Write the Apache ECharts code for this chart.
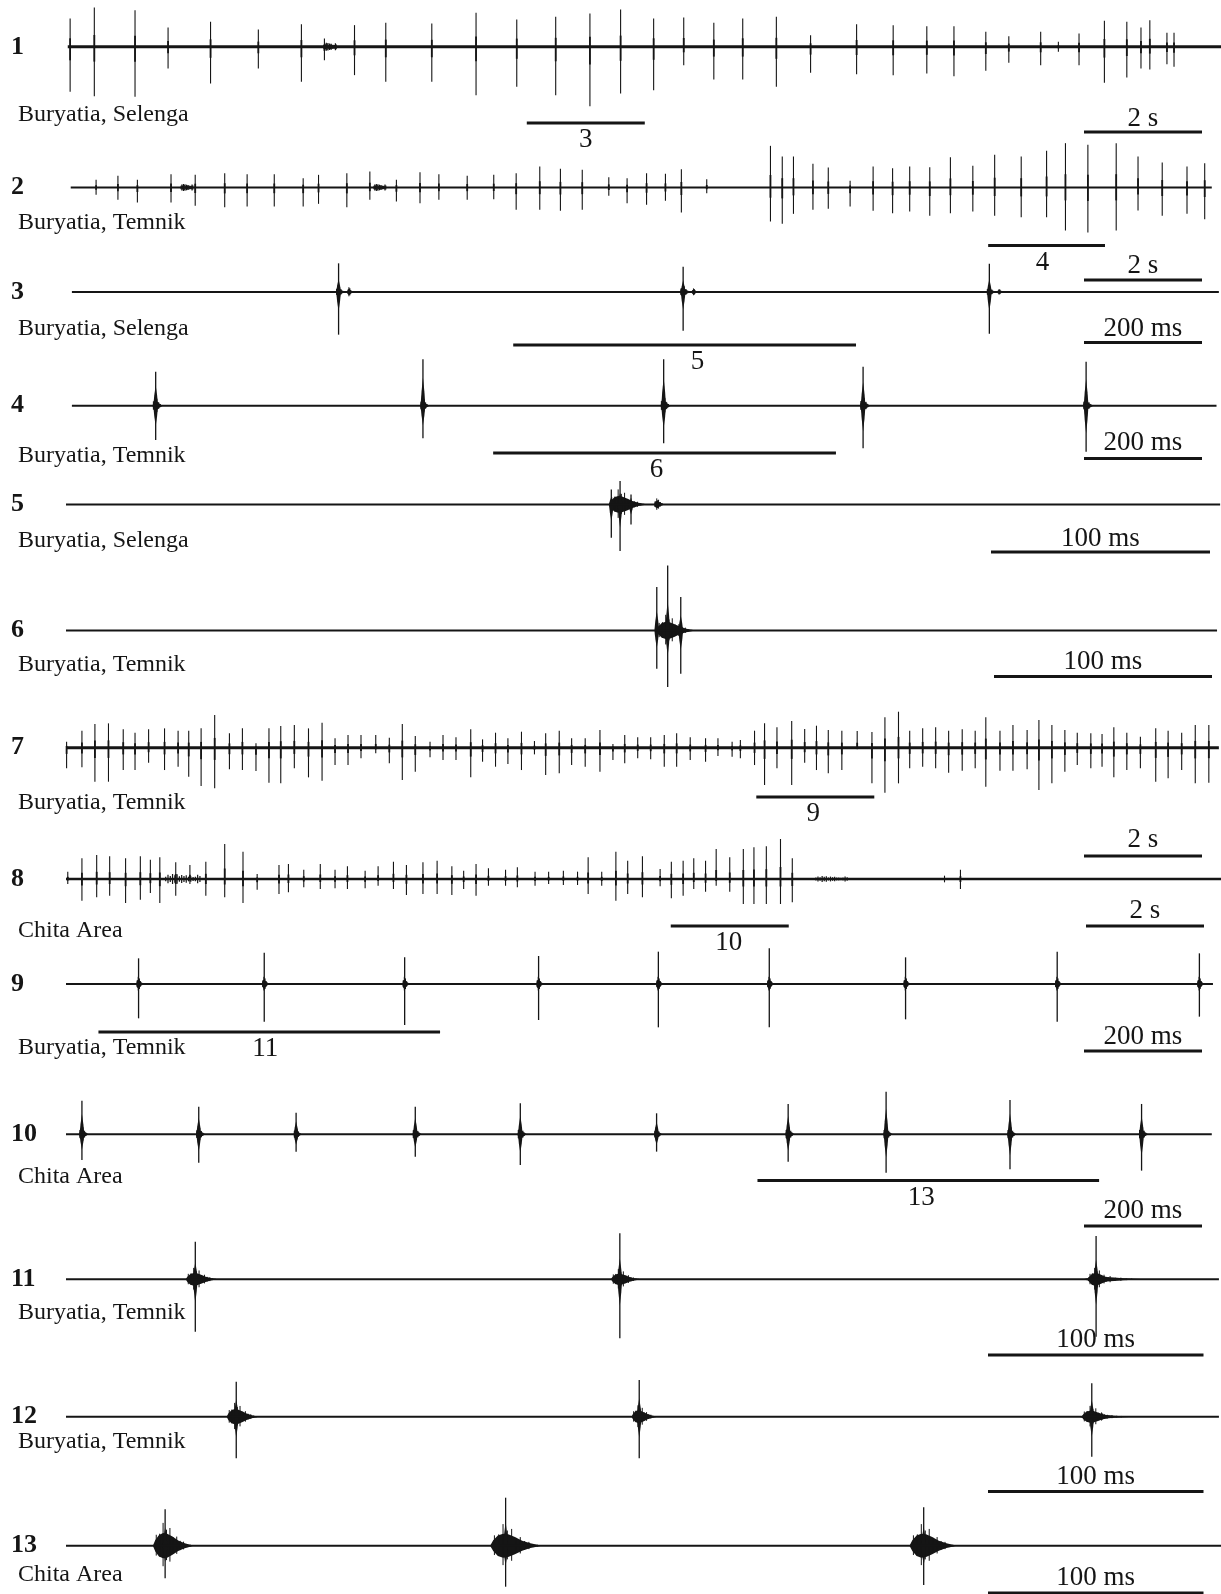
<!DOCTYPE html>
<html>
<head>
<meta charset="utf-8">
<script src="https://cdn.jsdelivr.net/npm/echarts@6/dist/echarts.min.js"></script>
<style>
  html, body { margin: 0; padding: 0; background: #fff; }
  #chart { width: 1221px; height: 1594px; }
</style>
</head>
<body>
<div id="chart"></div>
<script>
// ---- data (times in s or ms of each record, amplitudes in relative units) ----
const rowIds = ['1','2','3','4','5','6','7','8','9','10','11','12','13'];
const regions = ['Buryatia, Selenga','Buryatia, Temnik','Buryatia, Selenga','Buryatia, Temnik',
  'Buryatia, Selenga','Buryatia, Temnik','Buryatia, Temnik','Chita Area','Buryatia, Temnik',
  'Chita Area','Buryatia, Temnik','Buryatia, Temnik','Chita Area'];
const scaleLabels = ['2 s','2 s','200 ms','200 ms','100 ms','100 ms','2 s','2 s','200 ms','200 ms','100 ms','100 ms','100 ms'];
const scaleLengths = [2,2,200,200,100,100,2,2,200,200,100,100,100];
const traceSpans = [[0.03,19.58],[0.08,19.42],[10,1954],[10,1950],[0,527],[0,528],[0,19.54],[0,19.58],[0,1944],[0,1942],[0,535],[0,535],[0,536]];

// [time, up, down]
const spikes1 = [[0.07,85,135],[0.48,118,148],[1.17,110,150],[1.73,58,65],[2.45,75,110],[3.26,52,65],[3.99,68,105],[4.38,25,40],[4.89,65,85],[5.42,72,105],[6.20,70,105],[6.95,102,145],[7.64,82,120],[8.30,90,145],[8.88,100,178],[9.40,112,140],[9.96,85,130],[10.47,88,55],[10.98,72,98],[11.47,85,98],[12.04,90,120],[12.62,35,78],[13.40,68,82],[14.02,65,85],[14.59,62,80],[15.05,62,88],[15.59,45,72],[15.98,32,48],[16.52,45,55],[16.82,15,15],[17.17,40,55],[17.60,78,108],[17.98,75,92],[18.22,58,65],[18.37,80,68],[18.66,42,52],[18.78,42,60]];
const spikes2 = [[0.51,23,22],[0.88,35,37],[1.21,23,45],[1.78,40,45],[2.19,38,55],[2.69,43,59],[3.07,40,57],[3.53,40,57],[4.02,28,57],[4.28,38,49],[4.76,43,59],[5.15,48,37],[5.60,23,42],[6.00,46,47],[6.32,40,37],[6.80,35,37],[7.25,38,35],[7.63,43,67],[8.03,63,67],[8.38,56,70],[8.75,53,67],[9.20,31,25],[9.51,28,47],[9.84,43,52],[10.16,41,40],[10.43,55,75],[10.86,25,17],[11.94,125,102],[12.14,93,109],[12.33,93,79],[12.66,71,67],[12.92,60,64],[13.29,20,57],[13.68,63,70],[14.01,58,77],[14.30,63,72],[14.64,61,85],[14.99,91,77],[15.37,65,72],[15.74,98,85],[16.19,93,89],[16.62,110,89],[16.94,133,129],[17.32,128,135],[17.80,133,129],[18.17,93,69],[18.58,75,85],[19.00,63,79],[19.30,73,95]];
const spikes7 = [[0.01,18,62],[0.27,51,59],[0.49,71,102],[0.72,73,102],[0.97,55,67],[1.17,45,67],[1.40,55,45],[1.67,58,67],[1.90,51,57],[2.08,51,87],[2.29,58,115],[2.52,98,122],[2.77,43,65],[2.99,58,67],[3.22,13,70],[3.44,58,105],[3.64,65,107],[3.87,68,62],[4.11,58,89],[4.34,75,99],[4.56,28,52],[4.78,38,52],[5.00,38,32],[5.25,38,17],[5.48,30,47],[5.70,71,97],[5.92,35,72],[6.17,18,29],[6.39,38,37],[6.61,31,37],[6.86,55,89],[7.06,25,42],[7.28,45,57],[7.49,28,49],[7.72,48,67],[7.94,20,20],[8.13,43,82],[8.36,51,77],[8.57,28,52],[8.80,28,57],[9.05,53,72],
  [9.27,11,37],[9.47,38,47],[9.69,31,32],[9.91,31,35],[10.14,38,57],[10.35,43,57],[10.58,31,37],[10.84,28,42],[11.05,28,25],[11.29,18,27],[11.43,23,32],[11.67,51,52],[11.84,73,112],[12.05,61,62],[12.30,80,112],[12.52,56,45],[12.72,66,67],[12.92,53,77],[13.15,51,67],[13.41,50,5],[13.66,47,107],[13.88,91,135],[14.11,108,107],[14.30,51,62],[14.52,58,57],[14.74,61,62],[14.96,51,75],[15.19,55,69],[15.41,51,62],[15.59,91,117],[15.83,51,69],[16.05,68,69],[16.29,53,65],[16.49,83,127],[16.71,68,107],[16.93,53,72],[17.14,45,52],[17.37,43,62],[17.56,41,57],[17.76,61,89],[17.98,45,67],[18.21,33,62],[18.47,58,102],[18.68,51,92],[18.91,45,67],[19.14,68,107],[19.37,68,105]];
const spikes8 = [[0.03,22,15],[0.27,62,65],[0.52,72,55],[0.74,68,50],[1.01,62,72],[1.26,68,62],[1.43,58,42],[1.59,65,72],[1.86,50,50],[2.10,42,15],[2.37,52,50],[2.69,105,55],[3.00,82,72],[3.24,15,32],[3.61,42,45],[3.77,45,40],[4.03,28,25],[4.31,45,30],[4.56,28,28],[4.77,38,30],[5.07,25,28],[5.29,38,20],[5.55,52,30],[5.77,42,48],[6.05,50,45],[6.29,55,45],[6.54,38,48],[6.74,25,30],[6.95,45,50],[7.16,32,20],[7.45,28,20],[7.65,35,25],[7.95,22,20],[8.18,22,15],[8.43,25,18],[8.67,22,18],[8.85,65,45],[9.08,22,20],[9.32,82,65],[9.52,55,45],[9.77,68,55],[10.07,30,22],[10.26,52,58],[10.46,55,50],[10.64,62,30],[10.84,55,38],[11.02,90,20],[11.25,65,38],[11.48,90,75],[11.66,95,75],[11.87,98,75],[12.11,120,75],[12.31,62,70],[14.89,10,10],[15.16,28,30]];

// noise patches [from, to, amplitude]
const patches1 = [[4.37,4.58,8]];
const patches2 = [[1.95,2.15,7],[5.22,5.42,7]];
const patches8 = [[1.69,2.27,10],[12.71,13.24,6]];

// bursts [time, up, down, core, duration]
const bursts3 = [[462,86,128,11,16],[480,9,9,8,10],[1046,76,116,12,18],[1064,7,7,6,10],[1565,85,125,10,16],[1582,6,6,5,10]];
const bursts4 = [[152,102,103,15,18],[605,139,98,14,16],[1013,139,113,16,18],[1351,117,128,16,18],[1729,132,138,14,18]];
const bursts5 = [[253,70,140,25,17.6],[249,45,100,0,0],[258,30,60,0,0],[270,10,10,10,5]];
const bursts6 = [[276,195,170,26,18],[271,130,115,0,0],[282,100,130,0,0]];
const bursts9 = [[123,77,103,12,12],[336,94,113,12,12],[574,80,123,12,12],[801,84,108,12,12],[1004,97,130,12,12],[1192,107,130,12,12],[1423,80,106,12,12],[1680,97,113,12,12],[1921,92,98,12,12]];
const bursts10 = [[27,101,77,15,16],[225,83,85,14,16],[390,65,52,12,14],[592,83,67,14,16],[770,93,92,15,16],[1001,63,52,12,14],[1224,91,82,15,16],[1390,128,115,15,16],[1600,103,105,15,16],[1823,91,109,15,16]];
const bursts11 = [[60,113,157,19,15],[257,138,177,17,14],[478,130,172,19,13],[481,0,0,7,30]];
const bursts12 = [[79,105,125,23,15],[266,110,125,19,12],[476,100,120,18,16],[478,0,0,7,26]];
const bursts13 = [[46,109,98,38,19],[204,144,123,36,24],[398,115,118,36,22]];

// zoomed-in fragments [row, from, to, label]
const zoomBars = [[0,7.81,9.81,'3'],[1,15.63,17.61,'4'],[2,758,1339,'5'],[3,724,1305,'6'],[6,11.70,13.70,'9'],[7,10.25,12.25,'10'],[8,55,634,'11'],[9,1172,1751,'13']];

// ---- layout ----
const W = 1221, H = 1594, LEFT = 66, K = 3;
const pxPerUnit = [59,59,0.59,0.59,2.19,2.18,59,59,0.59,0.59,2.155,2.155,2.155];
const baseY = [46.8,187.5,292,405.7,504.4,630.4,747.7,879,984,1134.3,1279.3,1416.7,1545.7];
const traceWidth = [3,2,2,2,2,2,3,2.5,2,2,2,2,2];
const labelY = [115,223,329,456,541,665,803,931,1048,1177,1313,1442,1575];
const scaleX0 = [1084,1084,1084,1084,991,994,1084,1086,1084,1084,988,988,988];
const scaleBarY = [132,280,342.5,458.5,552,676.5,856,926,1051,1226,1355,1491.5,1593];
const scaleTextY = [119,265.5,329,443,539,662,840,911,1037,1211,1340,1476.5,1578];
const zoomBarY = {0:123, 1:245.5, 2:345, 3:453, 6:797, 7:926, 8:1032, 9:1180.5};
const zoomLabelDx = [0,-4,13,-8,-2,-1,-4,-7];
// how far the thick part of a burst spike reaches (share of its amplitude)
const spindleFrac = {2:0.45, 3:0.6, 4:0.5, 5:0.45, 8:0.15, 9:0.6, 10:0.45, 11:0.5, 12:0.5};

const spikeRows = {0: spikes1, 1: spikes2, 6: spikes7, 7: spikes8};
const patchRows = {0: patches1, 1: patches2, 7: patches8};
const burstRows = {2: bursts3, 3: bursts4, 4: bursts5, 5: bursts6, 8: bursts9, 9: bursts10, 10: bursts11, 11: bursts12, 12: bursts13};

const INK = '#151515';
const FONT = '"Liberation Serif", "Times New Roman", serif';
// burst envelope (offset as part of duration, relative height)
const env = [[-0.3,0],[-0.24,0.45],[-0.15,0.85],[-0.05,1],[0.05,0.95],[0.18,0.72],[0.32,0.42],[0.48,0.2],[0.7,0]];
const hatch = [0.7,1.3,0.9,1.5,1.1,1.4,0.8,1.2,0.9,1.1,0.7,0.8,0.6];

function envAt(f) {
  for (let k = 1; k < env.length; k++) {
    if (f <= env[k][0]) {
      const a = env[k - 1], b = env[k];
      return a[1] + (b[1] - a[1]) * (f - a[0]) / (b[0] - a[0]);
    }
  }
  return 0;
}

const grids = [], xAxes = [], yAxes = [], series = [], texts = [];

rowIds.forEach((id, i) => {
  const base = baseY[i];
  const top = Math.max(0, base - 110);
  const bottom = Math.min(H, base + 120);
  grids.push({left: LEFT, width: W - LEFT, top: top, height: bottom - top});
  xAxes.push({gridIndex: i, type: 'value', min: 0, max: (W - LEFT) / pxPerUnit[i], show: false});
  yAxes.push({gridIndex: i, type: 'value', min: -(bottom - base) * K, max: (base - top) * K, show: false});
  const ax = {xAxisIndex: i, yAxisIndex: i};

  // baseline of the record
  series.push(Object.assign({
    type: 'line', data: [[traceSpans[i][0], 0], [traceSpans[i][1], 0]],
    symbol: 'none', silent: true, lineStyle: {color: INK, width: traceWidth[i]}
  }, ax));

  if (patchRows[i]) {
    series.push(Object.assign({
      type: 'custom', data: patchRows[i], clip: false, silent: true,
      renderItem: (p, api) => {
        const t0 = api.value(0), t1 = api.value(1), a = api.value(2);
        const children = [];
        const n = 16;
        for (let k = 0; k < n; k++) {
          const t = t0 + (t1 - t0) * k / (n - 1);
          const h = a * hatch[k % hatch.length];
          const p0 = api.coord([t, h]), p1 = api.coord([t, -h]);
          children.push({type: 'line', shape: {x1: p0[0], y1: p0[1], x2: p1[0], y2: p1[1]}, style: {stroke: INK, lineWidth: 1.2}});
        }
        return {type: 'group', children: children};
      }
    }, ax));
  }

  if (spikeRows[i]) {
    series.push(Object.assign({
      type: 'custom', data: spikeRows[i], clip: false, silent: true,
      renderItem: (p, api) => {
        const t = api.value(0);
        const a = api.coord([t, api.value(1)]);
        const b = api.coord([t, -api.value(2)]);
        const a2 = api.coord([t, api.value(1) * 0.3]);
        const b2 = api.coord([t, -api.value(2) * 0.3]);
        return {type: 'group', children: [
          {type: 'line', shape: {x1: a[0], y1: a[1], x2: b[0], y2: b[1]}, style: {stroke: INK, lineWidth: 1.1}},
          {type: 'line', shape: {x1: a2[0], y1: a2[1], x2: b2[0], y2: b2[1]}, style: {stroke: INK, lineWidth: 1.8}}
        ]};
      }
    }, ax));
  }

  if (burstRows[i]) {
    const sf = spindleFrac[i];
    series.push(Object.assign({
      type: 'custom', data: burstRows[i], clip: false, silent: true,
      renderItem: (p, api) => {
        const t = api.value(0), up = api.value(1), dn = api.value(2), c = api.value(3), d = api.value(4);
        const children = [];
        if (c > 0 && d > 0) {
          const pts = env.map(e => api.coord([t + e[0] * d, e[1] * c]));
          for (let k = env.length - 1; k >= 0; k--) pts.push(api.coord([t + env[k][0] * d, -env[k][1] * c]));
          children.push({type: 'polygon', shape: {points: pts}, style: {fill: INK}});
          const n = hatch.length;
          for (let k = 0; k < n; k++) {
            const f = -0.3 + k / (n - 1);
            const h = c * envAt(f) * hatch[k] * 1.2;
            if (h <= 0) continue;
            const p0 = api.coord([t + f * d, h]), p1 = api.coord([t + f * d, -h * 0.9]);
            children.push({type: 'line', shape: {x1: p0[0], y1: p0[1], x2: p1[0], y2: p1[1]}, style: {stroke: INK, lineWidth: 1}});
          }
        }
        if (up > 0 || dn > 0) {
          const a = api.coord([t, up]);
          const b = api.coord([t, -dn]);
          children.push({type: 'line', shape: {x1: a[0], y1: a[1], x2: b[0], y2: b[1]}, style: {stroke: INK, lineWidth: 1.3}});
          const a2 = api.coord([t, up * sf]);
          const b2 = api.coord([t, -dn * sf]);
          const m = api.coord([t, 0]);
          const w = 2.4;
          children.push({type: 'polygon', shape: {points: [
            [a2[0], a2[1]], [m[0] + w * 0.6, (a2[1] + m[1]) / 2], [m[0] + w, m[1]], [m[0] + w * 0.6, (b2[1] + m[1]) / 2],
            [b2[0], b2[1]], [m[0] - w * 0.6, (b2[1] + m[1]) / 2], [m[0] - w, m[1]], [m[0] - w * 0.6, (a2[1] + m[1]) / 2]
          ]}, style: {fill: INK}});
        }
        return {type: 'group', children: children};
      }
    }, ax));
  }

  // scale bar
  const s0 = (scaleX0[i] - LEFT) / pxPerUnit[i];
  const sy = -(scaleBarY[i] - base) * K;
  series.push(Object.assign({
    type: 'line', data: [[s0, sy], [s0 + scaleLengths[i], sy]], symbol: 'none', silent: true, clip: false,
    lineStyle: {color: INK, width: 3}
  }, ax));
  texts.push({type: 'text', x: scaleX0[i] + scaleLengths[i] * pxPerUnit[i] / 2, y: scaleTextY[i], silent: true,
    style: {text: scaleLabels[i], font: '27px ' + FONT, fill: INK, textAlign: 'center', textVerticalAlign: 'middle', align: 'center', verticalAlign: 'middle'}});

  // row number and site
  texts.push({type: 'text', x: 11, y: base, silent: true,
    style: {text: id, font: 'bold 26px ' + FONT, fill: INK, textAlign: 'left', textVerticalAlign: 'middle', align: 'left', verticalAlign: 'middle'}});
  texts.push({type: 'text', x: 18, y: labelY[i], silent: true,
    style: {text: regions[i], font: '24px ' + FONT, fill: INK, textAlign: 'left', textVerticalAlign: 'middle', align: 'left', verticalAlign: 'middle'}});
});

zoomBars.forEach((z, k) => {
  const i = z[0];
  const yU = -(zoomBarY[i] - baseY[i]) * K;
  series.push({
    type: 'line', xAxisIndex: i, yAxisIndex: i, data: [[z[1], yU], [z[2], yU]], symbol: 'none', silent: true, clip: false,
    lineStyle: {color: INK, width: 3}
  });
  const cx = LEFT + (z[1] + z[2]) / 2 * pxPerUnit[i] + zoomLabelDx[k];
  texts.push({type: 'text', x: cx, y: zoomBarY[i] + 17, silent: true,
    style: {text: z[3], font: '27px ' + FONT, fill: INK, textAlign: 'center', textVerticalAlign: 'middle', align: 'center', verticalAlign: 'middle'}});
});

const chart = echarts.init(document.getElementById('chart'));
chart.setOption({
  animation: false,
  backgroundColor: '#fff',
  grid: grids,
  xAxis: xAxes,
  yAxis: yAxes,
  series: series,
  graphic: {elements: texts}
});
</script>
</body>
</html>
